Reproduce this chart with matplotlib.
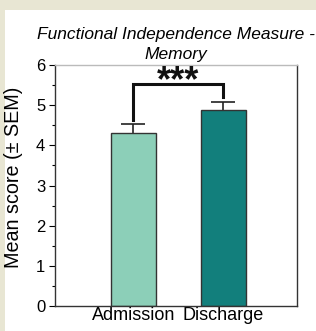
import numpy as np
import matplotlib.pyplot as plt
from matplotlib.patches import Rectangle

groups = ["Admission", "Discharge"]
means = [4.3, 4.87]
sems = [0.22, 0.21]
colors = ["#8ccfb8", "#127f7c"]
sig_label = "***"
title_lines = ["Functional Independence Measure -", "Memory"]

plt.rcParams["font.family"] = ["Liberation Sans", "DejaVu Sans"]

W, H = 316, 331
fig = plt.figure(figsize=(W / 100, H / 100), dpi=100)
fig.patch.set_facecolor("#e8e6d3")
# white panel behind the plot
fig.patches.append(Rectangle((5 / W, 0), 1, 1 - 10 / H, transform=fig.transFigure,
                             facecolor="white", edgecolor="none", zorder=-5))

ax = fig.add_axes([55 / W, 25 / H, 242 / W, 241 / H])
ax.set_facecolor("white")

x = np.arange(len(groups))
ax.bar(x, means, width=0.5, color=colors, edgecolor="#333333", linewidth=1.0, zorder=2)
eb = ax.errorbar(x, means, yerr=[np.zeros(2), sems], fmt="none", ecolor="#222222",
                 elinewidth=1.2, capsize=8.5, capthick=1.2, zorder=1)
eb[1][0].set_visible(False)  # no cap at the bar top

ax.set_xlim(-0.872, 1.817)
ax.set_ylim(0, 6)
ax.set_yticks(range(7))
ax.set_yticks(np.arange(0.5, 6, 1), minor=True)
ax.set_xticks(x)
ax.set_xticklabels(groups, fontsize=13)
ax.tick_params(axis="y", labelsize=12, length=4, width=0.8, pad=3)
ax.tick_params(axis="y", which="minor", length=2, width=0.8)
ax.tick_params(axis="x", length=0, pad=1)
ax.set_ylabel("Mean score (± SEM)", fontsize=14.2)
ax.yaxis.set_label_coords(-0.132, 0.535)

for s in ["left", "bottom", "right"]:
    ax.spines[s].set_color("#333333")
    ax.spines[s].set_linewidth(1.0)
ax.spines["top"].set_color("#bbbbbb")
ax.spines["top"].set_linewidth(1.0)

# significance bracket
yb = 5.52
ax.plot([0, 0, 1, 1], [4.62, yb, yb, 5.2], color="#111111", lw=2.2,
        solid_joinstyle="miter", zorder=3)
ax.text(0.5, 5.59, sig_label, ha="center", va="center", fontsize=26,
        fontweight="bold", color="#111111")

# two-line italic title
for line, ybase in zip(title_lines, [39, 59]):
    fig.text(176 / W, 1 - ybase / H, line, ha="center", va="baseline",
             fontsize=12.5, style="italic")

fig.savefig("out.png", dpi=100, facecolor=fig.get_facecolor())
